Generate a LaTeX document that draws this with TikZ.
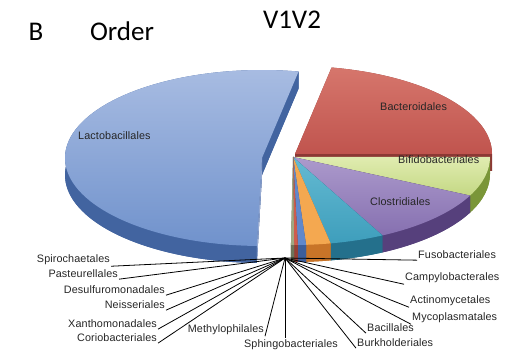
\documentclass[tikz,border=0pt]{standalone}
\usepackage{fontspec}
\setmainfont{Liberation Sans}
\newfontfamily\titlefont{Carlito}
\usetikzlibrary{calc}
\definecolor{blueA}{RGB}{168,188,226}
\definecolor{blueB}{RGB}{112,146,204}
\definecolor{blueS}{RGB}{66,100,160}
\definecolor{blueC}{RGB}{150,170,210}
\definecolor{redA}{RGB}{214,118,108}
\definecolor{redB}{RGB}{192,84,78}
\definecolor{redS}{RGB}{140,56,52}
\definecolor{greenA}{RGB}{224,236,176}
\definecolor{greenB}{RGB}{196,216,132}
\definecolor{greenS}{RGB}{122,150,56}
\definecolor{purpA}{RGB}{172,154,204}
\definecolor{purpB}{RGB}{134,112,176}
\definecolor{purpS}{RGB}{86,64,124}
\definecolor{tealA}{RGB}{100,186,210}
\definecolor{tealB}{RGB}{62,158,188}
\definecolor{tealS}{RGB}{36,112,140}
\definecolor{oranA}{RGB}{244,168,80}
\definecolor{oranS}{RGB}{200,116,40}
\definecolor{sblueA}{RGB}{96,136,204}
\definecolor{sblueS}{RGB}{60,94,156}
\definecolor{sredA}{RGB}{206,92,76}
\definecolor{sredS}{RGB}{150,62,52}
\definecolor{sgrayA}{RGB}{160,168,130}
\definecolor{sgrayS}{RGB}{110,116,90}
\newcommand\pieslice[6]{%
  \path[#6] (#1,#2+17) -- ++(#3:197 and 88) arc[start angle=#3,end angle=#4,x radius=197,y radius=88] -- cycle;
  \path[#6] (#1,#2) -- ++(#3:197 and 88) -- ++(0,17) -- (#1,#2+17) -- cycle;
  \path[#6] (#1,#2) -- ++(#4:197 and 88) -- ++(0,17) -- (#1,#2+17) -- cycle;
  \path[#6] (#1,#2) ++(#3:197 and 88) arc[start angle=#3,end angle=#4,x radius=197,y radius=88] -- ++(0,17) arc[start angle=#4,end angle=#3,x radius=197,y radius=88] -- cycle;
  \path[#5] (#1,#2) -- ++(#3:197 and 88) arc[start angle=#3,end angle=#4,x radius=197,y radius=88] -- cycle;
}
\tikzset{
  lbl/.style={font=\fontsize{10.8}{12}\selectfont\addfontfeature{LetterSpace=1}, inner sep=1pt, text=black!85},
  inlbl/.style={font=\fontsize{10.8}{12}\selectfont\addfontfeature{LetterSpace=1}, inner sep=0pt, text=black!85, anchor=west},
  lead/.style={draw=black, line width=0.8pt},
  ttl/.style={font=\titlefont\fontsize{27}{30}\selectfont, inner sep=0pt, anchor=base}
}
\begin{document}
\begin{tikzpicture}[x=1pt,y=-1pt]
\useasboundingbox (0,0) rectangle (521,352);
\fill[white] (0,0) rectangle (521,352);
% titles
\node[ttl] (tB) at (36,41) {B};
\node[ttl] (tOrder) at (122,41) {Order};
\node[ttl] (tV) at (292,29) {V1V2};
% pie
\pieslice{262}{158}{91.5}{280.7}{top color=blueA,bottom color=blueB}{fill=blueS}
\path[fill=blueC] (262,158) -- ++(91.5:197 and 88) -- ++(0,17) -- (262,175) -- cycle;
\pieslice{295}{154}{-79.3}{0}{top color=redA,bottom color=redB}{fill=redS}
\pieslice{293}{157}{0}{26}{top color=greenA,bottom color=greenB}{fill=greenS}
\pieslice{293}{157}{26}{63}{top color=purpA,bottom color=purpB}{fill=purpS}
\pieslice{293}{157}{63}{79}{top color=tealA,bottom color=tealB}{fill=tealS}
\pieslice{293}{157}{79}{86.2}{fill=oranA}{fill=oranS}
\pieslice{293}{157}{86.2}{88.6}{fill=sblueA}{fill=sblueS}
\pieslice{293}{157}{88.6}{89.7}{fill=sredA}{fill=sredS}
\pieslice{293}{157}{89.7}{90.6}{fill=sgrayA}{fill=sgrayS}
% in-pie labels
\node[inlbl] (lacto) at (78,136) {Lactobacillales};
\node[inlbl] (bacte) at (380,107) {Bacteroidales};
\node[inlbl] (bifid) at (398,160) {Bifidobacteriales};
\node[inlbl] (clost) at (370,202) {Clostridiales};
% leader labels
\coordinate (P) at (285,258);
\node[lbl,anchor=west] (fuso) at (417,255) {Fusobacteriales};
\node[lbl,anchor=west] (campy) at (404,278) {Campylobacterales};
\node[lbl,anchor=west] (actino) at (409,301) {Actinomycetales};
\node[lbl,anchor=west] (myco) at (411,318) {Mycoplasmatales};
\node[lbl,anchor=west] (bacil) at (366,328) {Bacillales};
\node[lbl,anchor=west] (burk) at (356,343) {Burkholderiales};
\node[lbl,anchor=north] (sphin) at (291,338) {Sphingobacteriales};
\node[lbl,anchor=east] (methy) at (265,330) {Methylophilales};
\node[lbl,anchor=east] (spiro) at (111,260) {Spirochaetales};
\node[lbl,anchor=east] (paste) at (119,274) {Pasteurellales};
\node[lbl,anchor=east] (desul) at (166,290) {Desulfuromonadales};
\node[lbl,anchor=east] (neiss) at (166,305) {Neisseriales};
\node[lbl,anchor=east] (xanth) at (158,324) {Xanthomonadales};
\node[lbl,anchor=east] (corio) at (158,338) {Coriobacteriales};
\foreach \n in {fuso,campy,actino,myco,bacil,burk}{\draw[lead] (P) -- (\n.south west);}
\foreach \n in {methy,spiro,paste,desul,neiss,xanth,corio}{\draw[lead] (P) -- (\n.south east);}
\draw[lead] (P) -- (P |- sphin.north);
\end{tikzpicture}
\end{document}
